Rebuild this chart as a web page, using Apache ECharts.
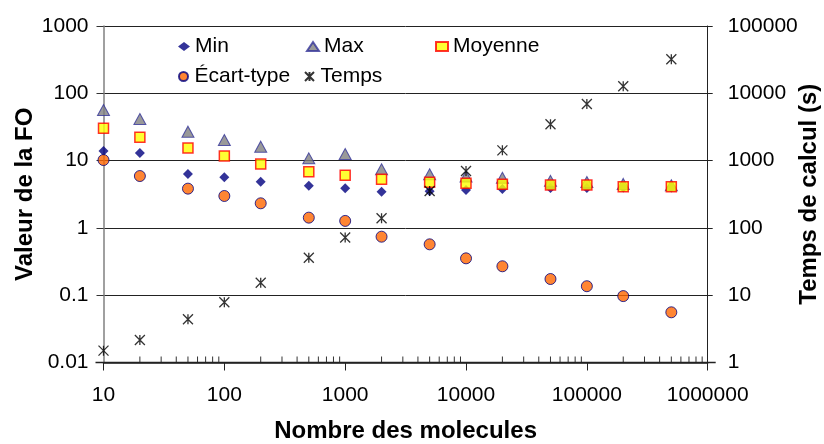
<!DOCTYPE html>
<html><head><meta charset="utf-8">
<script src="https://cdn.jsdelivr.net/npm/echarts@6/dist/echarts.min.js"></script>
<style>html,body{margin:0;padding:0;background:#fff}#c{width:824px;height:444px}</style>
</head><body><div id="c"></div>
<script>
const molecules = [10,20,50,100,200,500,1000,2000,5000,10000,20000,50000,100000,200000,500000];
const minVals = [13.9,13.0,6.3,5.65,4.86,4.24,3.87,3.45,3.5,3.66,3.8,3.9,3.9,4.0,4.0];
const maxVals = [56.5,41.5,26.9,20.2,16.1,10.8,12.5,7.43,6.25,5.8,5.57,5.0,4.8,4.5,4.3];
const moyVals = [30.2,22.2,15.4,11.7,8.9,6.84,6.05,5.27,4.76,4.6,4.45,4.34,4.34,4.1,4.1];
const ecartVals = [10.2,5.9,3.83,2.98,2.32,1.42,1.27,0.74,0.57,0.353,0.269,0.174,0.136,0.097,0.0557];
const tempsVals = [1.5,2.16,4.38,7.84,15.3,36,72,139,353,700,1420,3460,6930,12700,32000];
const minorTickValues = [];
[10,100,1000,10000,100000].forEach(d=>{for(let k=2;k<=9;k++) minorTickValues.push(d*k);});

const font = 'Liberation Sans, Arial, sans-serif';
const pair = arr => molecules.map((x,i)=>[x,arr[i]]);
const fmt = v => String(Number(v.toPrecision(6)));
const star = 'path://M0,0L10,10M10,0L0,10M5,0L5,10';

const chart = echarts.init(document.getElementById('c'), null, {renderer:'canvas'});
function legendAt(name, left, top){
  return {data:[name], left:left, top:top, itemWidth:12, itemHeight:9, itemGap:0,
    textStyle:{fontFamily:font, fontSize:21, color:'#000', padding:[0,0,0,0]}, padding:0};
}
chart.setOption({
  animation:false,
  backgroundColor:'#fff',
  grid:{left:103.5, right:116.3, top:26, bottom:81.5, containLabel:false, outerBoundsMode:'none'},
  legend:[legendAt('Min',178,36), legendAt('Max',306,36), legendAt('Moyenne',435,36),
          legendAt('Écart-type',178,66), legendAt('Temps',304,66)],
  xAxis:{type:'log', logBase:10, min:10, max:1000000, position:'bottom',
    name:'Nombre des molecules', nameLocation:'middle', nameGap:57, nameMoveOverlap:false,
    nameTextStyle:{fontFamily:font, fontSize:24, fontWeight:'bold', color:'#000'},
    axisLine:{show:true, onZero:false, lineStyle:{color:'#222', width:1.5}},
    axisTick:{show:true, length:8, inside:false, lineStyle:{color:'#222', width:1}},
    axisLabel:{fontFamily:font, fontSize:21, color:'#000', margin:22, formatter:fmt},
    splitLine:{show:false}, minorTick:{show:false}},
  yAxis:[{type:'log', logBase:10, min:0.01, max:1000,
    name:'Valeur de la FO', nameLocation:'middle', nameGap:66, nameRotate:90, nameMoveOverlap:false,
    nameTextStyle:{fontFamily:font, fontSize:24, fontWeight:'bold', color:'#000'},
    axisLine:{show:true, onZero:false, lineStyle:{color:'#808080', width:1.5}},
    axisTick:{show:true, length:7, lineStyle:{color:'#333'}},
    axisLabel:{fontFamily:font, fontSize:21, color:'#000', margin:15, formatter:fmt},
    splitLine:{show:true, lineStyle:{color:'#222', width:1}}},
   {type:'log', logBase:10, min:1, max:100000, position:'right',
    name:'Temps de calcul (s)', nameLocation:'middle', nameGap:90, nameRotate:90, nameMoveOverlap:false,
    nameTextStyle:{fontFamily:font, fontSize:24, fontWeight:'bold', color:'#000'},
    axisLine:{show:true, onZero:false, lineStyle:{color:'#222', width:1}},
    axisTick:{show:true, length:5, lineStyle:{color:'#222'}},
    axisLabel:{fontFamily:font, fontSize:21, color:'#000', margin:20, formatter:fmt},
    splitLine:{show:false}}],
  series:[
    {name:'Min', type:'scatter', yAxisIndex:0, data:pair(minVals), symbol:'diamond', symbolSize:10,
     itemStyle:{color:'#000080'}, z:2},
    {name:'Max', type:'scatter', yAxisIndex:0, data:pair(maxVals), symbol:'triangle', symbolSize:[12,11],
     itemStyle:{color:'#808080', borderColor:'#333399', borderWidth:1}, z:3},
    {name:'Moyenne', type:'scatter', yAxisIndex:0, data:pair(moyVals), symbol:'rect', symbolSize:10,
     itemStyle:{color:'#FFFF00', borderColor:'#FF0000', borderWidth:1.5}, z:4},
    {name:'Écart-type', type:'scatter', yAxisIndex:0, data:pair(ecartVals), symbol:'circle', symbolSize:11,
     itemStyle:{color:'#FF6600', borderColor:'#000080', borderWidth:1}, z:5},
    {name:'Temps', type:'scatter', yAxisIndex:1, data:pair(tempsVals), symbol:star, symbolSize:10,
     itemStyle:{color:'rgba(0,0,0,0)', borderColor:'#000', borderWidth:1.3}, z:6}
  ]
});
const y0 = chart.convertToPixel({yAxisIndex:0}, 0.01);
const xL = chart.convertToPixel({xAxisIndex:0}, 10);
const xR = chart.convertToPixel({xAxisIndex:0}, 1000000);
const g = minorTickValues.map(v=>{
  const x = chart.convertToPixel({xAxisIndex:0}, v);
  return {type:'line', shape:{x1:x, y1:y0, x2:x, y2:y0-6}, style:{stroke:'#333', lineWidth:1}, silent:true};
});
g.push({type:'rect', shape:{x:xL-8, y:y0-0.75, width:(xR-xL)+16, height:1.5}, style:{fill:'#222'}, silent:true, z:10});
chart.setOption({graphic: g});
</script></body></html>
